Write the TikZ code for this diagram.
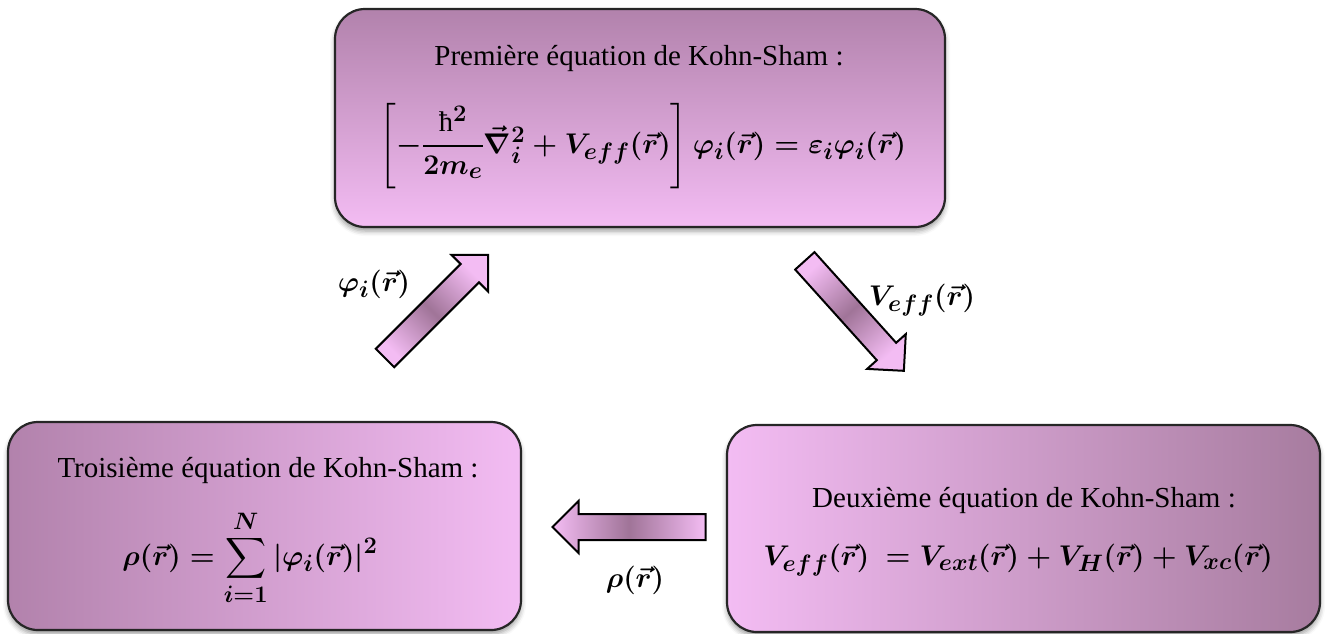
\documentclass[tikz,border=0pt]{standalone}
\usepackage{amsmath}
\usepackage{fontspec}
\setmainfont{Liberation Serif}
\usetikzlibrary{shapes.arrows,shadows.blur}
\definecolor{pinkL}{HTML}{F3BCF3}
\definecolor{mauveD}{HTML}{B282AC}
\definecolor{mauveR}{HTML}{A77C9F}
\definecolor{arrowD}{HTML}{A07498}
\pgfdeclarehorizontalshading{arrowshade}{100bp}{color(0bp)=(pinkL); color(25bp)=(pinkL); color(50bp)=(arrowD); color(75bp)=(pinkL); color(100bp)=(pinkL)}
\begin{document}
\begin{tikzpicture}[x=1pt,y=-1pt,
  ksbox/.style={draw=black!85, line width=2.2pt, rounded corners=30pt, inner sep=0pt,
    blur shadow={shadow xshift=0pt, shadow yshift=-4pt, shadow blur radius=5pt, shadow opacity=40}},
  titletext/.style={font=\fontsize{29}{33}\selectfont, inner sep=0pt},
  mathtext/.style={font=\fontsize{24.88}{30}\selectfont\boldmath, inner sep=0pt, scale=1.145, transform shape},
  blockarrow/.style={single arrow, draw=black, line width=2pt, single arrow tip angle=90,
    single arrow head extend=13pt, inner xsep=0pt, inner ysep=12pt, shading=arrowshade},
]
\useasboundingbox (0,0) rectangle (1325,633);
% boxes
\node[ksbox, minimum width=610pt, minimum height=218pt, top color=mauveD, bottom color=pinkL] (b1) at (640,118) {};
\node[ksbox, minimum width=513pt, minimum height=208pt, left color=mauveD, right color=pinkL] (b3) at (264.5,526) {};
\node[ksbox, minimum width=593pt, minimum height=207pt, left color=pinkL, right color=mauveR] (b2) at (1023.5,528.5) {};
% texts
\node[titletext] (t1) at (639,58) {Première équation de Kohn-Sham :};
\node[mathtext] (e1) at (643,146) {$\left[-\dfrac{\textnormal{ħ}^2}{2m_e}\vec{\nabla}_i^2+V_{eff}(\vec{r})\right]\varphi_i(\vec{r})=\varepsilon_i\varphi_i(\vec{r})$};
\node[titletext] (t3) at (268,470) {Troisième équation de Kohn-Sham :};
\node[mathtext] (e3) at (250,558) {$\displaystyle\rho(\vec{r})=\sum_{i=1}^{N}|\varphi_i(\vec{r})|^2$};
\node[titletext] (t2) at (1024,500) {Deuxième équation de Kohn-Sham :};
\node[mathtext] (e2) at (1018,560) {$V_{eff}(\vec{r})\ =V_{ext}(\vec{r})+V_H(\vec{r})+V_{xc}(\vec{r})$};
% arrows
\node[blockarrow, minimum height=146pt, rotate=45, shading angle=45] (a1) at (432,311) {};
\node[blockarrow, minimum height=148pt, rotate=-48, shading angle=-48] (a2) at (850,311) {};
\node[blockarrow, minimum height=153pt, rotate=180] (a3) at (635.5,527) {};
% labels
\node[mathtext] (l1) at (374,284) {$\varphi_i(\vec{r})$};
\node[mathtext] (l2) at (922,300) {$V_{eff}(\vec{r})$};
\node[mathtext] (l3) at (635,580) {$\rho(\vec{r})$};
\end{tikzpicture}
\end{document}
